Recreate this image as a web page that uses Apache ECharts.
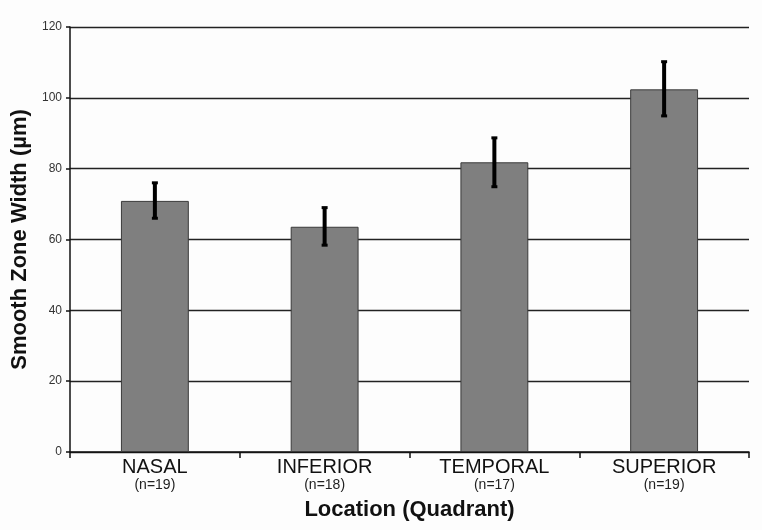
<!DOCTYPE html>
<html>
<head>
<meta charset="utf-8">
<script src="https://cdn.jsdelivr.net/npm/echarts@6/dist/echarts.min.js"></script>
<style>
html,body{margin:0;padding:0;background:#fdfdfd;}
#c{width:762px;height:530px;}
</style>
</head>
<body>
<div id="c"></div>
<script>
const categories = ['NASAL', 'INFERIOR', 'TEMPORAL', 'SUPERIOR'];
const sampleSizes = ['(n=19)', '(n=18)', '(n=17)', '(n=19)'];
const means = [70.9, 63.6, 81.8, 102.4];
const errLow = [66.0, 58.4, 74.9, 94.9];
const errHigh = [76.0, 69.0, 88.7, 110.2];
const yTicks = [0, 20, 40, 60, 80, 100, 120];

const chart = echarts.init(document.getElementById('c'));
const errData = categories.map((c, i) => [i, errLow[i], errHigh[i]]);
const FONT = 'Liberation Sans, Arial, sans-serif';

chart.setOption({
  backgroundColor: '#fdfdfd',
  animation: false,
  grid: {left: 70, right: 13, top: 27, bottom: 78},
  xAxis: {
    type: 'category',
    data: categories,
    boundaryGap: true,
    axisLine: {lineStyle: {color: '#111', width: 1.5}},
    axisTick: {show: true, interval: 0, length: 6, lineStyle: {color: '#111', width: 1.5}},
    axisLabel: {
      interval: 0,
      margin: 5,
      formatter: (v, i) => '{a|' + v + '}\n{b|' + sampleSizes[i] + '}',
      rich: {
        a: {fontFamily: FONT, fontSize: 20, color: '#111', lineHeight: 20},
        b: {fontFamily: FONT, fontSize: 14, color: '#222', lineHeight: 16}
      }
    },
    name: 'Location (Quadrant)',
    nameLocation: 'middle',
    nameGap: 47,
    nameTextStyle: {fontFamily: FONT, fontSize: 22, fontWeight: 'bold', color: '#111'}
  },
  yAxis: {
    type: 'value',
    min: yTicks[0],
    max: yTicks[yTicks.length - 1],
    interval: 20,
    axisLine: {show: true, lineStyle: {color: '#111', width: 1.5}},
    axisTick: {show: true, length: 4, lineStyle: {color: '#111', width: 1.5}},
    axisLabel: {fontFamily: FONT, fontSize: 12, color: '#333', margin: 8},
    splitLine: {show: true, lineStyle: {color: '#222', width: 1.3}},
    name: 'Smooth Zone Width (µm)',
    nameLocation: 'middle',
    nameGap: 35,
    nameTextStyle: {fontFamily: FONT, fontSize: 22, fontWeight: 'bold', color: '#111'}
  },
  series: [
    {
      type: 'bar',
      data: means,
      barWidth: '40%',
      itemStyle: {color: '#7f7f7f', borderColor: '#3a3a3a', borderWidth: 1}
    },
    {
      type: 'custom',
      data: errData,
      z: 10,
      renderItem: function (params, api) {
        const x = api.value(0);
        const lo = api.coord([x, api.value(1)]);
        const hi = api.coord([x, api.value(2)]);
        const cap = 3;
        const st = {stroke: '#000', lineWidth: 4};
        const cs = {stroke: '#000', lineWidth: 3};
        return {
          type: 'group',
          children: [
            {type: 'line', shape: {x1: lo[0], y1: lo[1], x2: hi[0], y2: hi[1]}, style: st},
            {type: 'line', shape: {x1: lo[0] - cap, y1: lo[1], x2: lo[0] + cap, y2: lo[1]}, style: cs},
            {type: 'line', shape: {x1: hi[0] - cap, y1: hi[1], x2: hi[0] + cap, y2: hi[1]}, style: cs}
          ]
        };
      }
    }
  ]
});
</script>
</body>
</html>
